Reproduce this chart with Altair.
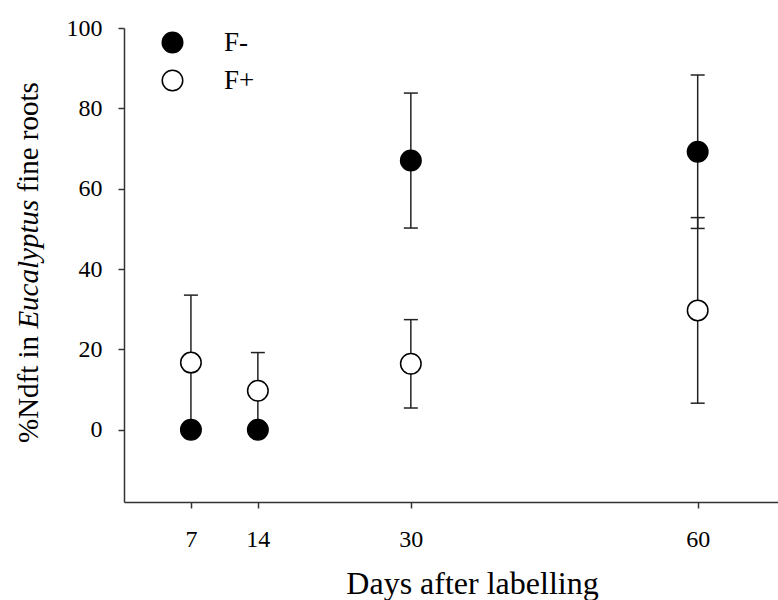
import altair as alt
import pandas as pd

days = [7, 14, 30, 60]
f_minus_mean = [0.0, 0.0, 67.0, 69.2]
f_minus_err = [0.0, 0.0, 16.8, 19.1]
f_plus_mean = [16.7, 9.7, 16.4, 29.7]
f_plus_err = [16.8, 9.5, 11.0, 23.1]
series_names = ["F-", "F+"]
x_ticks = [7, 14, 30, 60]
y_ticks = [0, 20, 40, 60, 80, 100]

rows = []
for d, m, e in zip(days, f_minus_mean, f_minus_err):
    rows.append({"day": d, "series": "F-", "mean": m, "lo": m - e, "hi": m + e})
for d, m, e in zip(days, f_plus_mean, f_plus_err):
    rows.append({"day": d, "series": "F+", "mean": m, "lo": m - e, "hi": m + e})
df = pd.DataFrame(rows)

FONT = "Liberation Serif"

xscale = alt.Scale(domain=[0, 68.4], nice=False, zero=False)
yscale = alt.Scale(domain=[-18, 100], nice=False, zero=False)

xaxis = alt.Axis(values=x_ticks, title="Days after labelling", grid=False,
                 labelPadding=19, titleX=348, titleY=91,
                 titleAlign="center", titleBaseline="alphabetic",
                 titleFontSize=32)
yaxis = alt.Axis(values=y_ticks, title=None, grid=False, labelPadding=16)

base = alt.Chart(df)

rules = base.mark_rule(color="#222", strokeWidth=1.5).encode(
    x=alt.X("day:Q", scale=xscale, axis=xaxis),
    y=alt.Y("lo:Q", scale=yscale, axis=yaxis),
    y2="hi:Q",
)

caps = base.transform_fold(["lo", "hi"], as_=["end", "val"]).mark_tick(
    orient="horizontal", size=14, thickness=1.5, color="#222", opacity=1
).encode(
    x=alt.X("day:Q", scale=xscale, axis=xaxis),
    y=alt.Y("val:Q", scale=yscale, axis=yaxis),
)

points = base.mark_point(
    filled=True, size=420, stroke="black", strokeWidth=1.5, opacity=1, shape="circle"
).encode(
    x=alt.X("day:Q", scale=xscale, axis=xaxis),
    y=alt.Y("mean:Q", scale=yscale, axis=yaxis),
    fill=alt.Fill(
        "series:N",
        scale=alt.Scale(domain=series_names, range=["black", "white"]),
        legend=alt.Legend(
            title=None, orient="none", legendX=35, legendY=1,
            labelFont=FONT, labelFontSize=27, labelColor="black",
            symbolSize=420, symbolStrokeColor="black", symbolStrokeWidth=1.5,
            symbolType="circle", labelOffset=38, rowPadding=10, padding=0,
        ),
    ),
)

title_df = pd.DataFrame({"t": ["%Ndft in"]})
t1 = alt.Chart(title_df).mark_text(
    text="%Ndft in", font=FONT, fontSize=29, angle=270, align="left",
    baseline="alphabetic", color="black"
).encode(x=alt.value(-86), y=alt.value(415))
t2 = alt.Chart(title_df).mark_text(
    text="Eucalyptus", font=FONT, fontSize=29, fontStyle="italic", angle=270,
    align="left", baseline="alphabetic", color="black"
).encode(x=alt.value(-86), y=alt.value(300.6))
t3 = alt.Chart(title_df).mark_text(
    text="fine roots", font=FONT, fontSize=29, angle=270, align="left",
    baseline="alphabetic", color="black"
).encode(x=alt.value(-86), y=alt.value(164.5))

chart = alt.layer(rules, caps, points, t1, t2, t3).properties(
    width=654, height=474,
    autosize=alt.AutoSizeParams(type="none"),
    padding={"left": 124, "top": 28, "right": 0, "bottom": 98},
    background="white",
).configure_view(strokeWidth=0).configure_axis(
    labelFont=FONT, labelFontSize=24, labelColor="black",
    tickSize=6, tickColor="#333", tickWidth=1.5,
    domainColor="#333", domainWidth=1.5, grid=False,
    titleFont=FONT, titleFontSize=32, titleFontWeight="normal", titleColor="black",
)

chart.save("out.html", embed_options={"renderer": "svg", "actions": False})
